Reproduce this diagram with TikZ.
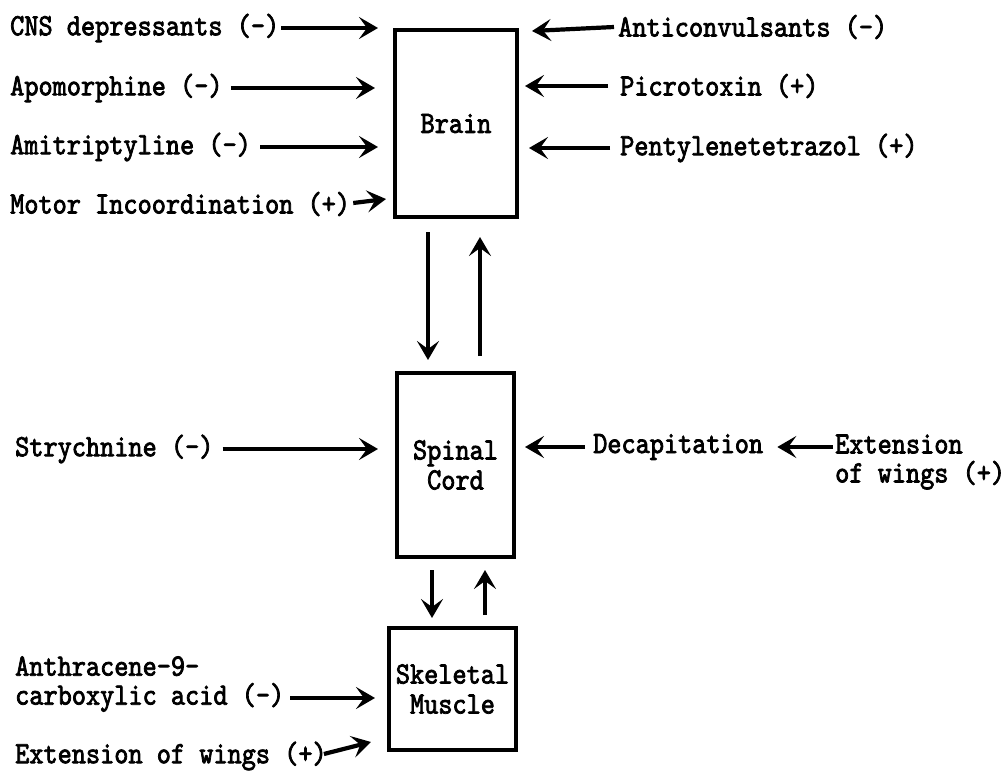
\documentclass[tikz,border=0pt]{standalone}
\usepackage{fontspec}
\newfontfamily\tw{lmmono10-regular.otf}[FakeBold=2.4,FakeStretch=0.87]
\usetikzlibrary{arrows.meta}
\begin{document}
\begin{tikzpicture}[x=1pt,y=-1pt,
  lbl/.style={font=\tw\fontsize{31}{29}\selectfont, inner sep=0pt, anchor=west, align=left},
  organ/.style={draw, line width=4pt, inner sep=0pt, align=center,
                font=\tw\fontsize{31}{30}\selectfont},
  arr/.style={line width=4.2pt, -{Stealth[length=19pt,width=22pt,inset=8pt]}}]
\useasboundingbox (0,0) rectangle (1004,773);

% organ boxes
\node[organ, minimum width=122pt, minimum height=187pt] (brain) at (456,123.5) {Brain};
\node[organ, minimum width=117pt, minimum height=184pt] (spinal) at (455.5,465) {Spinal\\Cord};
\node[organ, minimum width=127pt, minimum height=122pt] (skel) at (452.5,689) {Skeletal\\Muscle};

% labels
\node[lbl] (cns)    at (10,28)  {CNS depressants (-)};
\node[lbl] (apo)    at (10,88)  {Apomorphine (-)};
\node[lbl] (ami)    at (10,147) {Amitriptyline (-)};
\node[lbl] (mot)    at (10,204) {Motor Incoordination (+)};
\node[lbl] (antic)  at (618,27) {Anticonvulsants (-)};
\node[lbl] (picro)  at (620,86) {Picrotoxin (+)};
\node[lbl] (penty)  at (620,148) {Pentylenetetrazol (+)};
\node[lbl] (strych) at (15,449) {Strychnine (-)};
\node[lbl] (decap)  at (593,447) {Decapitation};
\node[lbl] (ext1)   at (835,462) {Extension\\of wings (+)};
\node[lbl] (anth)   at (15,684) {Anthracene-9-\\carboxylic acid (-)};
\node[lbl] (ext2)   at (15,756) {Extension of wings (+)};

% arrows into brain (left)
\draw[arr, shorten >=15pt] ([xshift=2pt]cns.east) -- (brain.west |- cns.east);
\draw[arr, shorten >=18pt] ([xshift=8pt]apo.east) -- (brain.west |- apo.east);
\draw[arr, shorten >=15pt] ([xshift=9pt]ami.east) -- (brain.west |- ami.east);
\draw[arr] ([xshift=3pt,yshift=1pt]mot.east) -- ([xshift=-7pt,yshift=20pt]brain.south west);

% arrows into brain (right)
\draw[arr] ([xshift=-4pt]antic.west) -- ([xshift=13pt,yshift=-3pt]brain.north east);
\draw[arr, shorten >=6pt] ([xshift=-12pt]picro.west) -- (brain.east |- picro.west);
\draw[arr, shorten >=10pt] ([xshift=-10pt]penty.west) -- (brain.east |- penty.west);

% brain <-> spinal cord
\draw[arr] ([xshift=-28pt,yshift=-13pt]brain.south) -- ([xshift=-27.5pt,yshift=11pt]spinal.north);
\draw[arr] ([xshift=24.5pt,yshift=15pt]spinal.north) -- ([xshift=24pt,yshift=-18pt]brain.south);

% spinal cord <-> skeletal muscle
\draw[arr] ([xshift=-23.5pt,yshift=-11pt]spinal.south) -- ([xshift=-20.5pt,yshift=8pt]skel.north);
\draw[arr] ([xshift=32.5pt,yshift=11pt]skel.north) -- ([xshift=29.5pt,yshift=-11pt]spinal.south);

% spinal cord inputs
\draw[arr, shorten >=17pt] ([xshift=9pt]strych.east) -- (spinal.west |- strych.east);
\draw[arr, shorten >=9pt] ([xshift=-8pt]decap.west) -- (spinal.east |- decap.west);
\draw[arr, shorten >=14pt] ([xshift=-2pt]ext1.west |- decap.east) -- (decap.east);

% skeletal muscle inputs
\draw[arr, shorten >=12pt] ([xshift=6pt,yshift=-14pt]anth.east) -- ([yshift=-14pt]skel.west |- anth.east);
\draw[arr] ([xshift=-3pt,yshift=2pt]ext2.east) -- ([xshift=-16pt,yshift=10pt]skel.south west);
\end{tikzpicture}
\end{document}
